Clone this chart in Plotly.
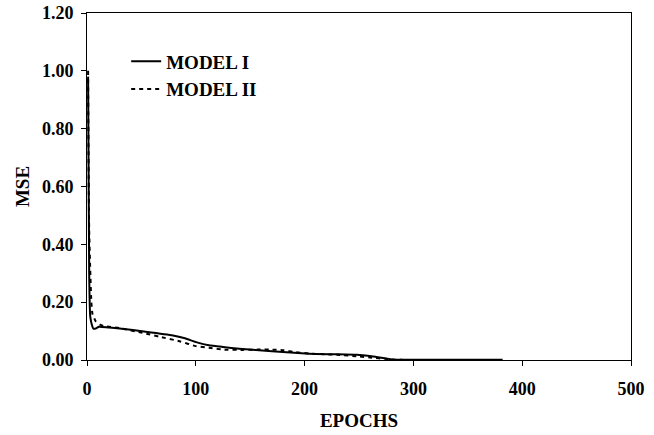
import plotly.graph_objects as go

# Training error (MSE) per epoch for the two network models
epochs_model_1 = [1, 2, 3, 5, 6, 8, 11, 20, 30, 54, 79, 90, 101, 112, 125, 140, 170,
                  204, 225, 248, 258, 266, 275, 281, 290, 320, 350, 382]
mse_model_1 = [0.98, 0.30, 0.15, 0.115, 0.108, 0.109, 0.115, 0.112, 0.109, 0.098, 0.085,
               0.075, 0.061, 0.051, 0.045, 0.039, 0.030, 0.022, 0.020, 0.018, 0.015,
               0.010, 0.005, 0.002, 0.001, 0.001, 0.001, 0.001]

epochs_model_2 = [1, 2, 4, 5, 8, 12, 16, 30, 51, 67, 85, 100, 112, 125, 143, 157, 168,
                  180, 192, 205, 230, 250, 262, 274, 283, 290]
mse_model_2 = [1.0, 0.45, 0.20, 0.16, 0.134, 0.122, 0.117, 0.11, 0.094, 0.080, 0.065,
               0.048, 0.042, 0.036, 0.035, 0.036, 0.036, 0.034, 0.027, 0.022, 0.018,
               0.012, 0.008, 0.004, 0.001, 0.001]

series_names = ["MODEL I", "MODEL II"]
x_ticks = [0, 100, 200, 300, 400, 500]
y_ticks = [0.0, 0.2, 0.4, 0.6, 0.8, 1.0, 1.2]

FONT = "Liberation Serif, Times New Roman, serif"
tick_font = dict(family=FONT, size=18, color="black", weight="bold")
label_font = dict(family=FONT, size=19, color="black", weight="bold")
legend_font = dict(family=FONT, size=19, color="black", weight="bold")

fig = go.Figure()
fig.add_trace(go.Scatter(
    x=epochs_model_1, y=mse_model_1, name=series_names[0], mode="lines",
    line=dict(color="black", width=2, shape="spline", smoothing=0.5),
    legendgroup="a",
))
fig.add_trace(go.Scatter(
    x=epochs_model_2, y=mse_model_2, name=series_names[1], mode="lines",
    line=dict(color="black", width=2, dash="4px,4px", shape="spline", smoothing=0.5),
    legendgroup="b",
))

axis_common = dict(
    showgrid=False, zeroline=False, showline=True, linecolor="black", linewidth=1,
    mirror=True, ticks="outside", ticklen=5, tickwidth=1, tickcolor="black",
    tickfont=tick_font, automargin=False,
)

fig.update_layout(
    width=654, height=435,
    margin=dict(l=87, r=23, t=13, b=75),
    paper_bgcolor="white", plot_bgcolor="white",
    font=label_font,
    showlegend=True,
    legend=dict(x=0.072, y=0.915, xanchor="left", yanchor="top",
                bgcolor="rgba(0,0,0,0)", font=legend_font, tracegroupgap=0),
    xaxis=dict(axis_common, range=[0, 500], tickvals=x_ticks, ticklabelstandoff=7,
               title=dict(text="EPOCHS", font=label_font, standoff=16)),
    yaxis=dict(axis_common, range=[0, 1.2], tickvals=y_ticks, tickformat=".2f",
               ticklabelstandoff=4,
               title=dict(text="MSE", font=label_font, standoff=7)),
)

fig.write_html("out.html")
